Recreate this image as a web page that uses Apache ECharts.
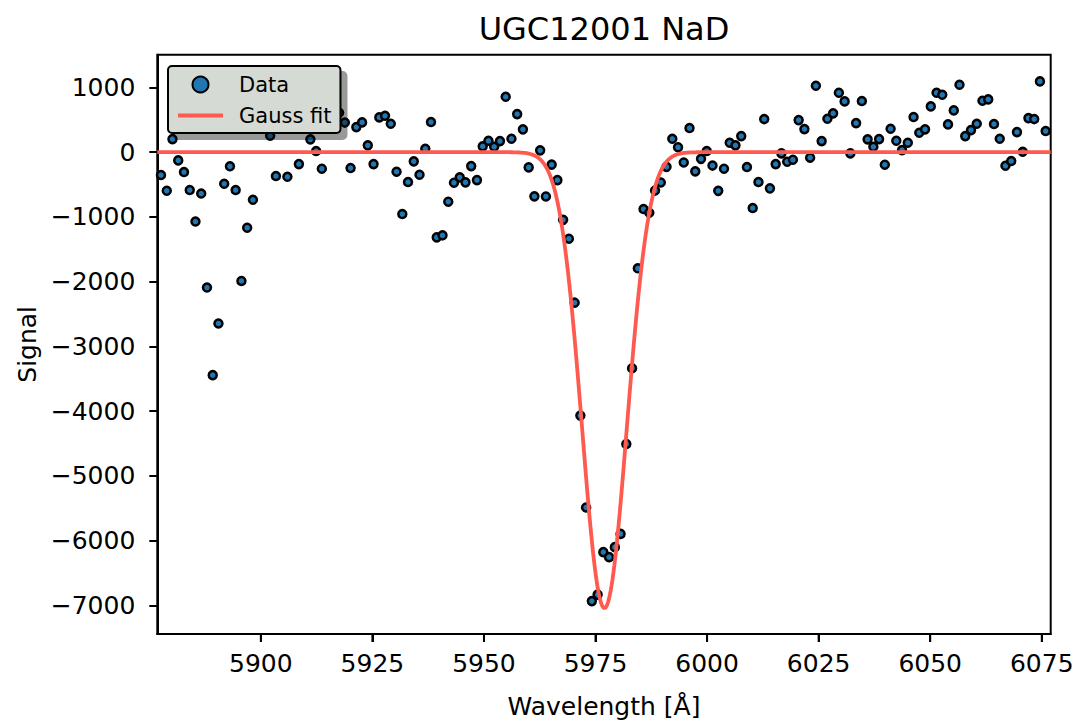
<!DOCTYPE html>
<html>
<head>
<meta charset="utf-8">
<title>UGC12001 NaD</title>
<script src="https://cdn.jsdelivr.net/npm/echarts@6/dist/echarts.min.js"></script>
<style>
  html, body { margin: 0; padding: 0; background: #ffffff; }
  #chart { width: 1089px; height: 726px; }
</style>
</head>
<body>
<div id="chart"></div>
<script>
// Observed NaD spectrum: wavelength (Å) and signal
const WAVELENGTH = [
  5877.63, 5878.92, 5880.20, 5881.49, 5882.78, 5884.07, 5885.35, 5886.64, 5887.93, 5889.22,
  5890.50, 5891.79, 5893.08, 5894.36, 5895.65, 5896.94, 5898.23, 5899.51, 5900.80, 5902.09,
  5903.38, 5904.66, 5905.95, 5907.24, 5908.53, 5909.81, 5911.10, 5912.39, 5913.67, 5914.96,
  5916.25, 5917.54, 5918.82, 5920.11, 5921.40, 5922.69, 5923.97, 5925.26, 5926.55, 5927.83,
  5929.12, 5930.41, 5931.70, 5932.98, 5934.27, 5935.56, 5936.85, 5938.13, 5939.42, 5940.71,
  5942.00, 5943.28, 5944.57, 5945.86, 5947.14, 5948.43, 5949.72, 5951.01, 5952.29, 5953.58,
  5954.87, 5956.16, 5957.44, 5958.73, 5960.02, 5961.30, 5962.59, 5963.88, 5965.17, 5966.45,
  5967.74, 5969.03, 5970.32, 5971.60, 5972.89, 5974.18, 5975.47, 5976.75, 5978.04, 5979.33,
  5980.61, 5981.90, 5983.19, 5984.48, 5985.76, 5987.05, 5988.34, 5989.63, 5990.91, 5992.20,
  5993.49, 5994.77, 5996.06, 5997.35, 5998.64, 5999.92, 6001.21, 6002.50, 6003.79, 6005.07,
  6006.36, 6007.65, 6008.93, 6010.22, 6011.51, 6012.80, 6014.08, 6015.37, 6016.66, 6017.95,
  6019.23, 6020.52, 6021.81, 6023.09, 6024.38, 6025.67, 6026.96, 6028.24, 6029.53, 6030.82,
  6032.11, 6033.39, 6034.68, 6035.97, 6037.26, 6038.54, 6039.83, 6041.12, 6042.40, 6043.69,
  6044.98, 6046.27, 6047.55, 6048.84, 6050.13, 6051.42, 6052.70, 6053.99, 6055.28, 6056.56,
  6057.85, 6059.14, 6060.43, 6061.71, 6063.00, 6064.29, 6065.58, 6066.86, 6068.15, 6069.44,
  6070.73, 6072.01, 6073.30, 6074.59, 6075.87
];

const SIGNAL = [
  -353, -596, 202, -127, -307, -585, -1071, -639, -2090, -3443,
  -2645, -488, -218, -585, -1989, -1167, -735, 620, 450, 253,
  -369, 700, -380, 540, -184, 420, 198, 17, -256, 760,
  520, 608, 457, -245, 387, 460, 105, -184, 537, 562,
  438, -302, -955, -461, -142, -349, 52, 465, -1315, -1284,
  -765, -472, -389, -466, -215, -431, 90, 176, 83, 171,
  855, 207, 588, 352, -235, -682, 28, -684, -193, -432,
  -1045, -1336, -2324, -4068, -5486, -6932, -6832, -6176, -6253, -6099,
  -5894, -4505, -3336, -1793, -878, -935, -593, -468, -227, 207,
  76, -159, 373, -296, -103, 17, -207, -597, -256, 145,
  105, 248, -230, -863, -461, 511, -559, -184, -19, -148,
  -117, 495, 356, -86, 1025, 171, 515, 599, 917, 784,
  -19, 449, 789, 198, 83, 202, -194, 361, 176, 32,
  145, 542, 299, 352, 707, 917, 886, 429, 645, 1040,
  248, 341, 438, 793, 815, 434, 207, -210, -137, 310,
  6, 526, 511, 1093, 326
];

// Gaussian absorption fit parameters
const FIT_AMPLITUDE = -7040;
const FIT_CENTER = 5977.0;
const FIT_SIGMA = 5.0;

// Axis range and tick labels
const X_MIN = 5876.8, X_MAX = 6077.0;
const Y_MIN = -7440, Y_MAX = 1505;
const X_TICKS = [5900, 5925, 5950, 5975, 6000, 6025, 6050, 6075];
const Y_TICKS = [-7000, -6000, -5000, -4000, -3000, -2000, -1000, 0, 1000];

const FONT = 'DejaVu Sans';
const TICK_LEN = 8;

const scatterData = WAVELENGTH.map((w, i) => [w, SIGNAL[i]]);

// Evaluate the fitted model on a fine wavelength grid
const fitData = [];
for (let w = X_MIN; w <= X_MAX + 1e-9; w += 0.2) {
  const d = (w - FIT_CENTER) / FIT_SIGMA;
  fitData.push([w, FIT_AMPLITUDE * Math.exp(-0.5 * d * d)]);
}

const fmtPlain = v => String(v);
const fmtSigned = v => (v < 0 ? '\u2212' + Math.abs(v) : String(v));

const chart = echarts.init(document.getElementById('chart'), null, { renderer: 'svg' });

chart.setOption({
  backgroundColor: '#ffffff',
  animation: false,
  title: {
    text: 'UGC12001 NaD',
    left: 604,
    textAlign: 'center',
    top: 13,
    padding: 0,
    textStyle: { fontFamily: FONT, fontSize: 32, fontWeight: 'normal', color: '#000' }
  },
  grid: {
    left: 157.3,
    right: 38.3,
    top: 54.7,
    bottom: 92,
    show: true,
    borderColor: '#000',
    borderWidth: 2,
    backgroundColor: 'transparent',
    containLabel: false
  },
  legend: {
    orient: 'vertical',
    left: 168,
    top: 66,
    padding: [8, 9, 7, 8],
    itemGap: 10,
    itemWidth: 45,
    itemHeight: 16,
    backgroundColor: '#d5dad4',
    borderColor: '#000',
    borderWidth: 2,
    borderRadius: 4,
    shadowColor: 'rgba(0,0,0,0.4)',
    shadowBlur: 0,
    shadowOffsetX: 6,
    shadowOffsetY: 6,
    textStyle: { fontFamily: FONT, fontSize: 21, color: '#000', padding: [0, 0, 0, 11] },
    data: [
      { name: 'Data' },
      { name: 'Gauss fit', itemStyle: { opacity: 0 }, lineStyle: { width: 4, color: '#ff5a50', opacity: 1 } }
    ]
  },
  xAxis: {
    type: 'value',
    position: 'bottom',
    min: X_MIN,
    max: X_MAX,
    name: 'Wavelength [Å]',
    nameLocation: 'middle',
    nameGap: 60,
    nameTextStyle: { fontFamily: FONT, fontSize: 25, color: '#000' },
    axisLine: { show: true, onZero: false, lineStyle: { color: '#000', width: 2 } },
    axisTick: { show: true, inside: false, length: TICK_LEN, customValues: X_TICKS, lineStyle: { color: '#000', width: 2 } },
    axisLabel: { show: true, customValues: X_TICKS, margin: 17, fontFamily: FONT, fontSize: 25, color: '#000', formatter: fmtPlain },
    splitLine: { show: false }
  },
  yAxis: {
    type: 'value',
    position: 'left',
    min: Y_MIN,
    max: Y_MAX,
    name: 'Signal',
    nameLocation: 'middle',
    nameRotate: 90,
    nameGap: 117,
    nameTextStyle: { fontFamily: FONT, fontSize: 25, color: '#000' },
    axisLine: { show: true, onZero: false, lineStyle: { color: '#000', width: 2 } },
    axisTick: { show: true, inside: false, length: TICK_LEN, customValues: Y_TICKS, lineStyle: { color: '#000', width: 2 } },
    axisLabel: { show: true, customValues: Y_TICKS, margin: 22, fontFamily: FONT, fontSize: 25, color: '#000', formatter: fmtSigned },
    splitLine: { show: false }
  },
  series: [
    {
      name: 'Data',
      type: 'scatter',
      data: scatterData,
      symbol: 'circle',
      symbolSize: 8,
      itemStyle: { color: '#1f77b4', borderColor: '#000', borderWidth: 2.5, opacity: 1 },
      z: 2
    },
    {
      name: 'Gauss fit',
      type: 'line',
      data: fitData,
      symbol: 'none',
      showSymbol: false,
      smooth: false,
      lineStyle: { color: '#ff5a50', width: 3.8 },
      itemStyle: { color: '#ff5a50' },
      z: 3
    },
    {
      // outward tick marks under the wavelength axis
      name: 'x ticks',
      type: 'custom',
      silent: true,
      clip: false,
      z: 10,
      data: X_TICKS.map(v => [v, Y_MIN]),
      encode: { x: 0, y: 1 },
      renderItem: (params, api) => {
        const p = api.coord([api.value(0), api.value(1)]);
        return {
          type: 'rect',
          shape: { x: p[0] - 1, y: p[1], width: 2, height: TICK_LEN },
          style: { fill: '#000' }
        };
      }
    }
  ]
});
</script>
</body>
</html>
